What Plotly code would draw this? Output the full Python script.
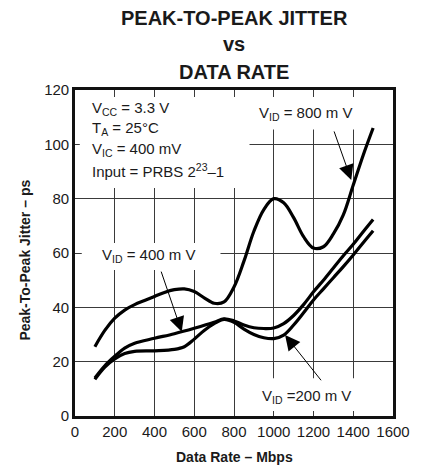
import plotly.graph_objects as go

# ---- data ----
rate_800 = [100, 150, 200, 250, 300, 350, 400, 450, 500, 550, 600, 650, 700, 750, 800,
            850, 900, 950, 1000, 1050, 1100, 1150, 1200, 1250, 1300, 1350, 1400, 1450, 1500]
jitter_800 = [25.5, 31.5, 36, 39, 41, 42.5, 44, 45.5, 46.5, 46.8, 45.8, 43.5, 41.5, 42, 47.5,
              57, 68, 76, 80, 78.5, 73, 66, 61.8, 62.3, 67, 74, 85, 96, 106]

rate_400 = [100, 150, 200, 250, 300, 400, 500, 600, 700, 750, 800, 850, 900, 950, 1000,
            1050, 1100, 1150, 1200, 1250, 1300, 1350, 1400, 1450, 1500]
jitter_400 = [14, 18.5, 22, 25, 26.8, 28.6, 30.3, 32.3, 34.5, 35.8, 35, 33.5, 32.5, 32.2, 32.4,
              34, 37, 41, 45.7, 50, 54.5, 59, 63.2, 67.8, 72.3]

rate_200 = [100, 150, 200, 250, 300, 400, 500, 550, 600, 650, 700, 750, 800, 850, 900, 950,
            1000, 1050, 1100, 1150, 1200, 1250, 1300, 1350, 1400, 1450, 1500]
jitter_200 = [13.5, 18, 21, 23, 23.8, 24, 24.5, 25.5, 28.3, 31.5, 34, 35.6, 34.5, 32, 30, 28.8,
              28.5, 29.8, 33.5, 38, 42.7, 46.8, 50.9, 55, 59.3, 63.8, 68.2]

x_ticks = [0, 200, 400, 600, 800, 1000, 1200, 1400, 1600]
y_ticks = [0, 20, 40, 60, 80, 100, 120]

title_lines = ["PEAK-TO-PEAK JITTER", "vs", "DATA RATE"]
conditions = ["V<sub>CC</sub> = 3.3 V", "T<sub>A</sub> = 25°C",
              "V<sub>IC</sub> = 400 mV", "Input = PRBS 2<sup>23</sup>–1"]
label_800 = "V<sub>ID</sub> = 800 m V"
label_400 = "V<sub>ID</sub> = 400 m V"
label_200 = "V<sub>ID</sub> =200 m V"

FONT = "Liberation Sans, Arial, sans-serif"
INK = "#1a1a1a"

fig = go.Figure()
for xs, ys in [(rate_800, jitter_800), (rate_400, jitter_400), (rate_200, jitter_200)]:
    fig.add_trace(go.Scatter(x=xs, y=ys, mode="lines",
                             line=dict(color="black", width=3.2, shape="spline", smoothing=1.0),
                             showlegend=False, hoverinfo="skip"))

# white masks that interrupt the grid behind the text blocks
masks = [
    (24, 878, 83.9, 117.4),    # conditions block
    (900, 1465, 105.5, 117.4), # 800 mV label
    (34, 732, 53.7, 63.7),     # 400 mV label
    (955, 1480, 1.8, 13.9),    # 200 mV label
]
shapes = []
for x0, x1, y0, y1 in masks:
    shapes.append(dict(type="rect", xref="x", yref="y", x0=x0, x1=x1, y0=y0, y1=y1,
                       fillcolor="white", line=dict(width=0), layer="between"))

PH = 326.0  # plot height in px
PW = 328.0  # plot width in px
ann = []
# title
for i, t in enumerate(title_lines):
    ann.append(dict(text=f"<b>{t}</b>", xref="paper", yref="paper",
                    x=0.5, y=1 + (90 - [18, 44, 72][i]) / PH,
                    xanchor="center", yanchor="middle", showarrow=False,
                    font=dict(family=FONT, size=20, color=INK)))
# conditions
cond_y = [113.2, 106.0, 98.1, 90.4]
for t, yy in zip(conditions, cond_y):
    ann.append(dict(text=t, x=73, y=yy, xref="x", yref="y", xanchor="left",
                    yanchor="middle", showarrow=False,
                    font=dict(family=FONT, size=15, color=INK)))
# curve labels
for t, xx, yy in [(label_800, 1161, 111.5), (label_400, 368, 58.9), (label_200, 1166, 7.1)]:
    ann.append(dict(text=t, x=xx, y=yy, xref="x", yref="y", xanchor="center",
                    yanchor="middle", showarrow=False,
                    font=dict(family=FONT, size=15, color=INK)))
# arrows
for tip, tail in [((1390, 86.9), (1301, 105.3)),
                  ((537, 31.0), (431, 53.7)),
                  ((1057, 29.8), (1244, 12.6))]:
    ann.append(dict(text="", x=tip[0], y=tip[1], ax=tail[0], ay=tail[1],
                    xref="x", yref="y", axref="x", ayref="y", showarrow=True,
                    arrowhead=2, arrowsize=3.0, arrowwidth=1, arrowcolor="black",
                    standoff=0))
# axis titles
ann.append(dict(text="<b>Data Rate – Mbps</b>", xref="paper", yref="paper",
                x=(239 - 75) / PW, y=-(456.7 - 416) / PH, xanchor="center",
                yanchor="middle", showarrow=False, font=dict(family=FONT, size=14, color=INK)))
ann.append(dict(text="<b>Peak-To-Peak Jitter – ps</b>", xref="paper", yref="paper",
                x=-(75 - 23) / PW, y=(416 - 260) / PH, xanchor="center",
                yanchor="middle", textangle=-90, showarrow=False,
                font=dict(family=FONT, size=14, color=INK)))

axis_common = dict(showgrid=True, gridcolor="#3a3a3a", gridwidth=1.2, zeroline=False,
                   showline=True, linecolor="#111", linewidth=2.6, mirror=True,
                   ticks="", tickfont=dict(family=FONT, size=15, color=INK))

# the page adds an 8 px offset at top-left, so the figure is 8 px smaller
fig.update_layout(
    width=414, height=462,
    margin=dict(l=67, r=19, t=82, b=54),
    paper_bgcolor="white", plot_bgcolor="white",
    xaxis=dict(range=[0, 1600], tickvals=x_ticks, ticktext=[str(v) for v in x_ticks], **axis_common),
    yaxis=dict(range=[0, 120], tickvals=y_ticks, ticktext=[str(v) for v in y_ticks], **axis_common),
    shapes=shapes, annotations=ann, showlegend=False,
)
fig.write_html("out.html")
